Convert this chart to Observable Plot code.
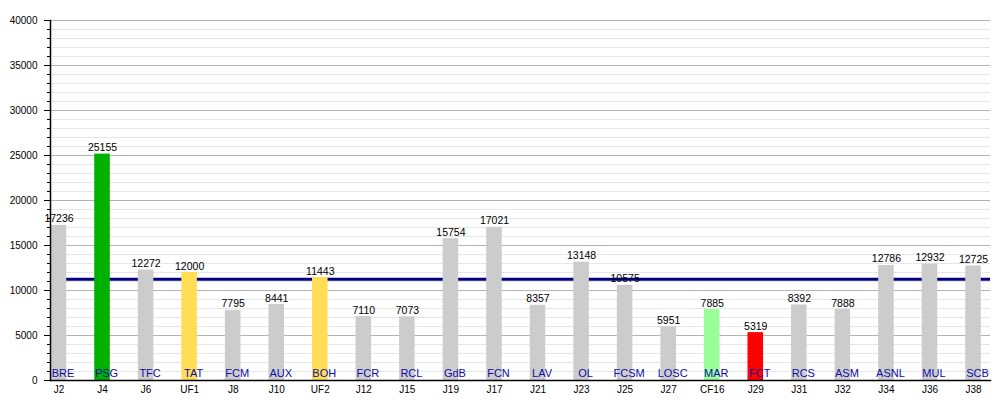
<!DOCTYPE html>
<html>
<head>
<meta charset="utf-8">
<script src="https://cdn.jsdelivr.net/npm/d3@7"></script>
<script src="https://cdn.jsdelivr.net/npm/@observablehq/plot@0.6"></script>
<style>
  html, body { margin: 0; padding: 0; background: #fff; }
  #chart svg { display: block; }
</style>
</head>
<body>
<div id="chart"></div>
<script>
(() => {
const rounds = ["J2", "J4", "J6", "UF1", "J8", "J10", "UF2", "J12", "J15", "J19", "J17",
  "J21", "J23", "J25", "J27", "CF16", "J29", "J31", "J32", "J34", "J36", "J38"];
const opponents = ["BRE", "PSG", "TFC", "TAT", "FCM", "AUX", "BOH", "FCR", "RCL", "GdB", "FCN",
  "LAV", "OL", "FCSM", "LOSC", "MAR", "FCT", "RCS", "ASM", "ASNL", "MUL", "SCB"];
const attendance = [17236, 25155, 12272, 12000, 7795, 8441, 11443, 7110, 7073, 15754, 17021,
  8357, 13148, 10575, 5951, 7885, 5319, 8392, 7888, 12786, 12932, 12725];
const kinds = ["league", "max", "league", "europe", "league", "league", "europe", "league", "league", "league", "league",
  "league", "league", "league", "league", "cup", "min", "league", "league", "league", "league", "league"];
const average = 11239;
const majorTicks = [0, 5000, 10000, 15000, 20000, 25000, 30000, 35000, 40000];
const minorTicks = d3.range(0, 40001, 1000);

const data = rounds.map((r, i) => ({
  round: r, team: opponents[i], value: attendance[i], kind: kinds[i]
}));

const chart = Plot.plot({
  width: 1000,
  height: 400,
  marginLeft: 50,
  marginRight: 10,
  marginTop: 20,
  marginBottom: 20,
  style: { fontFamily: "Liberation Sans, Arial, sans-serif", background: "#fff" },
  x: { type: "band", domain: rounds, range: [36.7, 994.8], padding: 0, round: false, label: null },
  y: { domain: [0, 40000], label: null },
  color: {
    domain: ["league", "max", "europe", "cup", "min"],
    range: ["#cccccc", "#00b000", "#ffdd55", "#99ff99", "#ff0000"]
  },
  marks: [
    Plot.ruleY(minorTicks, { stroke: "#e6e6e6", strokeWidth: 1 }),
    Plot.ruleY(majorTicks, { stroke: "#b4b4b4", strokeWidth: 1 }),
    Plot.ruleY([average], { stroke: "#000080", strokeWidth: 3 }),
    Plot.barY(data, {
      x: "round", y: "value", fill: "kind",
      insetLeft: 14, insetRight: 14
    }),
    Plot.text(data, {
      x: "round", y: "value", text: d => String(d.value),
      lineAnchor: "bottom", dy: -3, fontSize: 10.5, fill: "#000"
    }),
    Plot.text(data, {
      x: "round", y: 0, text: "team",
      lineAnchor: "bottom", dy: -4, dx: 4, fontSize: 11, fill: "#0c0ca8"
    }),
    Plot.axisY(minorTicks, { tickSize: 3, tickFormat: null, text: null, label: null }),
    Plot.axisY(majorTicks, {
      tickSize: 6, tickPadding: 7, tickFormat: d => String(d),
      fontSize: 10, label: null, stroke: "#000"
    }),
    Plot.axisX({ tickSize: 0, tickPadding: 5, fontSize: 10, label: null }),
    Plot.frame({ anchor: "left", stroke: "#000", strokeWidth: 1.5 }),
    Plot.frame({ anchor: "bottom", stroke: "#000", strokeWidth: 1.5 })
  ]
});

document.getElementById("chart").appendChild(chart);
})();
</script>
</body>
</html>
